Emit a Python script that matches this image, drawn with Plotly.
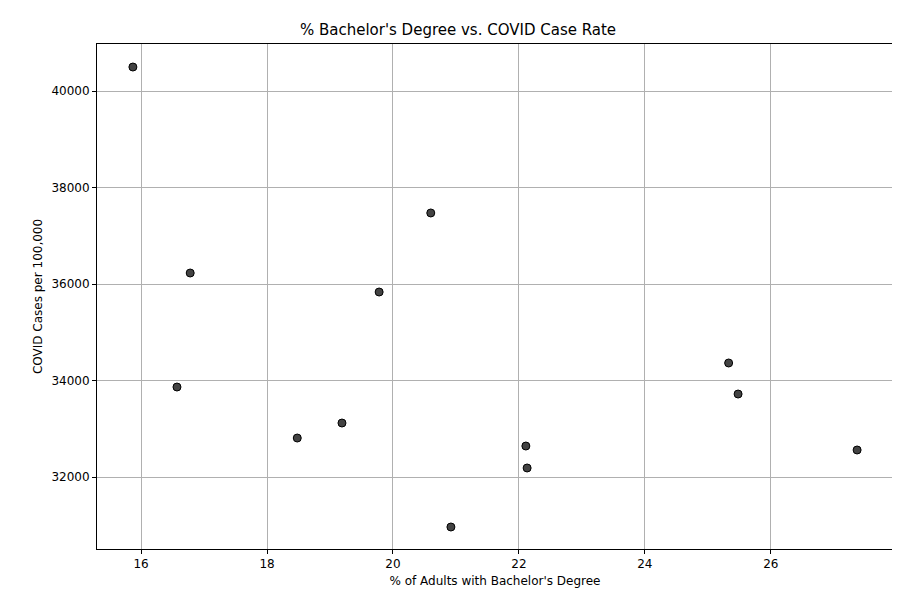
import plotly.graph_objects as go

bachelor_pct = [15.87, 20.60, 16.78, 19.78, 25.33, 16.57, 25.48, 19.19, 18.48, 22.11, 27.37, 22.13, 20.92]
case_rate = [40497, 37472, 36228, 35834, 34363, 33865, 33720, 33119, 32808, 32642, 32560, 32187, 30964]

fig = go.Figure(go.Scatter(
    x=bachelor_pct, y=case_rate, mode="markers",
    marker=dict(size=8, color="rgba(20,20,20,0.8)", line=dict(color="black", width=1)),
))

axis_style = dict(showgrid=True, gridcolor="#b0b0b0", gridwidth=1, showline=True, linecolor="black",
                  mirror=True, ticks="outside", ticklen=4, tickcolor="black", zeroline=False,
                  automargin=False, tickfont=dict(size=12, color="black"))

fig.update_xaxes(range=[15.30, 27.94], dtick=2,
                 title=dict(text="% of Adults with Bachelor's Degree", font=dict(size=12), standoff=6), **axis_style)
fig.update_yaxes(range=[30508, 40974], dtick=2000, tickformat="d",
                 title=dict(text="COVID Cases per 100,000", font=dict(size=12), standoff=6), **axis_style)

fig.update_layout(
    width=900, height=600,
    title=dict(text="% Bachelor's Degree vs. COVID Case Rate", x=0.5, xanchor="center",
               y=0.963, yanchor="middle", font=dict(size=15, color="black")),
    font=dict(family="DejaVu Sans", color="black"),
    plot_bgcolor="white", paper_bgcolor="white",
    margin=dict(l=89, r=15, t=36, b=59, autoexpand=False),
    showlegend=False,
)

fig.write_html("out.html")
